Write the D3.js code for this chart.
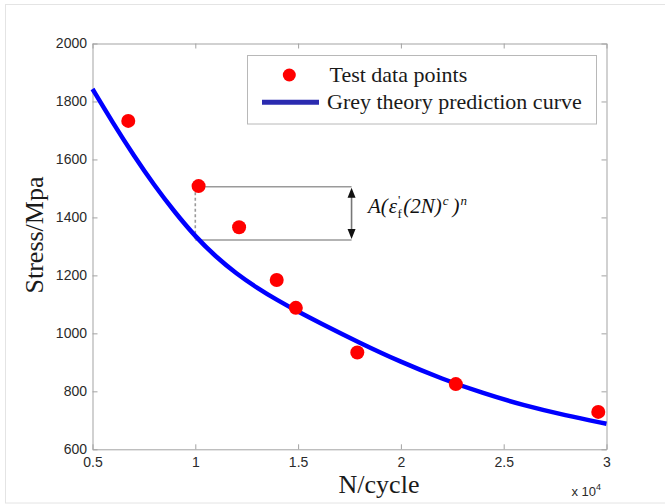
<!DOCTYPE html>
<html>
<head>
<meta charset="utf-8">
<script src="https://cdn.jsdelivr.net/npm/d3@7"></script>
<style>
  html, body { margin: 0; padding: 0; background: #fff; }
  svg { display: block; }
</style>
</head>
<body>
<svg id="chart" width="665" height="504"></svg>
<script>
// Fatigue test data: cycles N and stress (MPa)
const pointN = [6740, 10160, 12130, 13960, 14890, 17880, 22670, 29600];
const pointS = [1733, 1508, 1366, 1184, 1088, 934, 825, 729];

// Grey theory prediction curve, sampled along N
const curveN = [5000, 6000, 7000, 8000, 9000, 10000, 11000, 12000, 13000, 14000, 15000,
                16000, 18000, 20000, 22000, 24000, 26000, 28000, 30000];
const curveS = [1843, 1725, 1614, 1511, 1418, 1334, 1264, 1206, 1157, 1114, 1075,
                1038, 967, 901, 843, 793, 751, 717, 688];

// Axis ticks
const xTicks = [5000, 10000, 15000, 20000, 25000, 30000];
const xTickLabels = ["0.5", "1", "1.5", "2", "2.5", "3"];
const yTicks = [600, 800, 1000, 1200, 1400, 1600, 1800, 2000];

// Bracket showing the gap between the test point and the prediction
const bracketN = [10000, 17600];
const bracketS = [1506, 1322];

const legendLabels = ["Test data points", "Grey theory prediction curve"];
const xLabel = "N/cycle";
const yLabel = "Stress/Mpa";

const svg = d3.select("#chart");
const serif = "'Liberation Serif', 'Times New Roman', serif";
const sans = "'Liberation Sans', Arial, sans-serif";
const axisGrey = "#a3a3a3";

// faint outer frame of the figure
svg.append("rect")
  .attr("x", 5.5).attr("y", 4.5).attr("width", 700).attr("height", 498.5)
  .attr("fill", "none").attr("stroke", "#e4e4e4");

const x = d3.scaleLinear().domain([5000, 30000]).range([92.5, 606.5]);
const y = d3.scaleLinear().domain([600, 2000]).range([449.3, 43.5]);

function styleAxis(g) {
  g.selectAll("path.domain").attr("stroke", axisGrey);
  g.selectAll(".tick line").attr("stroke", axisGrey);
  g.selectAll(".tick text").attr("fill", "#2a2a2a")
    .style("font-family", sans).style("font-size", "14px");
}

// bottom axis (labels as multiples of 10^4)
svg.append("g").attr("transform", `translate(0,${y.range()[0]})`)
  .call(d3.axisBottom(x).tickValues(xTicks)
    .tickFormat((d, i) => xTickLabels[i])
    .tickSizeInner(-5).tickSizeOuter(0).tickPadding(8))
  .call(styleAxis);

// top axis (ticks only)
svg.append("g").attr("transform", `translate(0,${y.range()[1]})`)
  .call(d3.axisTop(x).tickValues(xTicks).tickFormat("")
    .tickSizeInner(-5).tickSizeOuter(0))
  .call(styleAxis);

// left axis
svg.append("g").attr("transform", `translate(${x.range()[0]},0)`)
  .call(d3.axisLeft(y).tickValues(yTicks).tickFormat(d3.format("d"))
    .tickSizeInner(-5).tickSizeOuter(0).tickPadding(5.5))
  .call(styleAxis);

// right axis (ticks only)
svg.append("g").attr("transform", `translate(${x.range()[1]},0)`)
  .call(d3.axisRight(y).tickValues(yTicks).tickFormat("")
    .tickSizeInner(-5).tickSizeOuter(0))
  .call(styleAxis);

// bracket between test point and curve
const bx0 = x(bracketN[0]), bx1 = x(bracketN[1]);
const byTop = y(bracketS[0]), byBot = y(bracketS[1]);
const bracket = svg.append("g").attr("stroke", "#9a9a9a").attr("stroke-width", 1.6).attr("fill", "none");
bracket.append("line").attr("x1", bx0).attr("x2", bx1).attr("y1", byTop).attr("y2", byTop);
bracket.append("line").attr("x1", bx0).attr("x2", bx1).attr("y1", byBot).attr("y2", byBot);
bracket.append("line").attr("x1", bx0).attr("x2", bx0).attr("y1", byTop).attr("y2", byBot)
  .attr("stroke-dasharray", "3,2.5");
bracket.append("line").attr("x1", bx1).attr("x2", bx1).attr("y1", byTop + 6).attr("y2", byBot - 6)
  .attr("stroke", "#777");
// arrow heads
svg.append("path")
  .attr("d", `M${bx1},${byTop + 1} l-4,10 l8,0 Z M${bx1},${byBot - 1} l-4,-10 l8,0 Z`)
  .attr("fill", "#111");

// formula label
const formula = svg.append("text")
  .attr("x", 368).attr("y", 213)
  .style("font-family", serif).style("font-size", "21px").style("font-style", "italic")
  .attr("fill", "#111");
formula.append("tspan").text("A(");
formula.append("tspan").attr("dx", 1).text("ε");
formula.append("tspan").attr("dy", 5).attr("dx", 0.5).style("font-size", "13px").style("font-style", "normal").text("f");
formula.append("tspan").attr("dy", -14).attr("dx", -4).style("font-size", "13px").style("font-style", "normal").text("'");
formula.append("tspan").attr("dy", 9).attr("dx", 3).text("(2N)");
formula.append("tspan").attr("dy", -8).attr("dx", 1).style("font-size", "13px").text("c");
formula.append("tspan").attr("dy", 8).attr("dx", 4).text(")");
formula.append("tspan").attr("dy", -8).attr("dx", 1).style("font-size", "13px").text("n");

// prediction curve
const line = d3.line().x((d, i) => x(curveN[i])).y(d => y(d)).curve(d3.curveBasis);
svg.append("path")
  .datum(curveS)
  .attr("d", line)
  .attr("fill", "none")
  .attr("stroke", "#0000ff")
  .attr("stroke-width", 4.5);

// test data points
svg.append("g").selectAll("circle")
  .data(pointS)
  .join("circle")
  .attr("cx", (d, i) => x(pointN[i]))
  .attr("cy", d => y(d))
  .attr("r", 7)
  .attr("fill", "#ff0000");

// legend
const lg = svg.append("g");
lg.append("rect")
  .attr("x", 247.5).attr("y", 55.5).attr("width", 349).attr("height", 68.5)
  .attr("fill", "#fff").attr("stroke", "#b8b8b8");
lg.append("circle").attr("cx", 289.3).attr("cy", 75).attr("r", 6.5).attr("fill", "#ff0000");
lg.append("line").attr("x1", 262).attr("x2", 319).attr("y1", 102.3).attr("y2", 102.3)
  .attr("stroke", "#2b2bb0").attr("stroke-width", 5);
lg.selectAll("text.lbl")
  .data(legendLabels)
  .join("text")
  .attr("class", "lbl")
  .attr("x", (d, i) => i === 0 ? 329.5 : 327)
  .attr("y", (d, i) => i === 0 ? 82 : 109)
  .style("font-family", serif).style("font-size", "22px")
  .attr("fill", "#1a1a1a")
  .text(d => d);

// axis titles
svg.append("text")
  .attr("x", 379).attr("y", 493)
  .attr("text-anchor", "middle")
  .style("font-family", serif).style("font-size", "26px")
  .attr("fill", "#1a1a1a")
  .text(xLabel);

svg.append("text")
  .attr("transform", "translate(42.5,235) rotate(-90)")
  .attr("text-anchor", "middle")
  .style("font-family", serif).style("font-size", "26px")
  .attr("fill", "#1a1a1a")
  .text(yLabel);

// exponent of the x scale
const mult = svg.append("text")
  .attr("x", 571.5).attr("y", 496)
  .style("font-family", sans).style("font-size", "13px")
  .attr("fill", "#2a2a2a");
mult.append("tspan").text("x 10");
mult.append("tspan").attr("dy", -6).style("font-size", "9px").text("4");
</script>
</body>
</html>
